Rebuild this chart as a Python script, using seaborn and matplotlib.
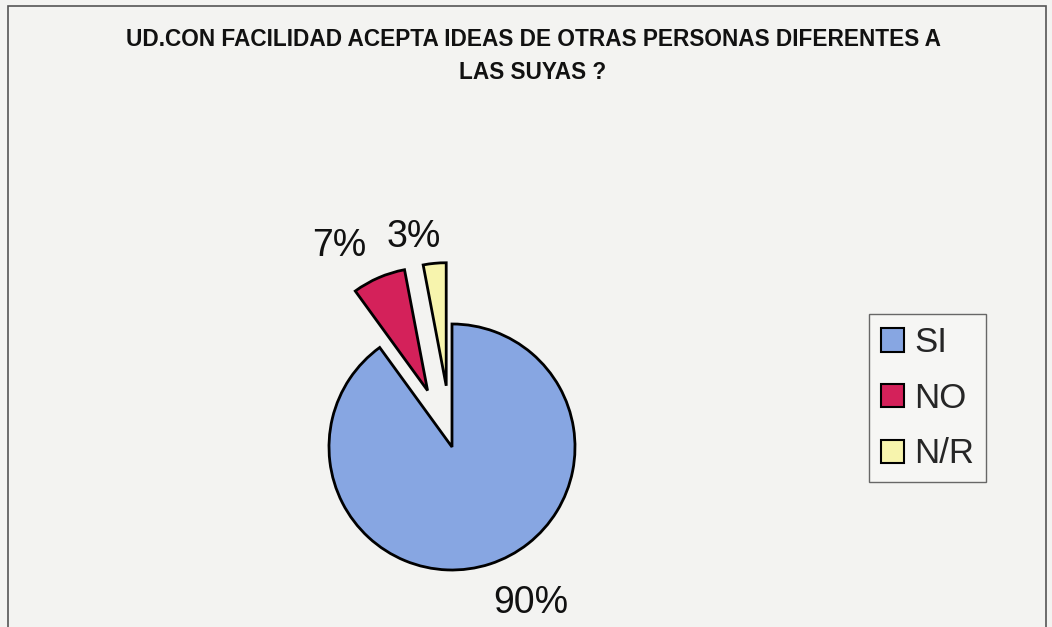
import matplotlib
matplotlib.use("Agg")
import matplotlib.pyplot as plt
import seaborn as sns
import numpy as np

# --- Data ---
categories = ["SI", "NO", "N/R"]
values = [90, 7, 3]
pct_labels = ["90%", "7%", "3%"]
colors = ["#87a6e2", "#d4215a", "#f7f4ad"]
explode = [0, 0.5, 0.5]

title = "UD.CON FACILIDAD ACEPTA IDEAS DE OTRAS PERSONAS DIFERENTES A\nLAS SUYAS ?"

sns.set_theme(style="white")
plt.rcParams["font.family"] = ["Liberation Sans", "DejaVu Sans"]

W, H = 1052, 627
fig = plt.figure(figsize=(W / 100, H / 100), dpi=100)
fig.patch.set_facecolor("#f3f3f1")

# border of chart area
frame = plt.Rectangle((8 / W, -0.05), (1046 - 8) / W, 1.05 - 6 / H, transform=fig.transFigure,
                      fill=False, edgecolor="#555555", lw=1.2)
fig.patches.append(frame)

fig.text(533 / W, 1 - 28 / H, title, ha="center", va="top", fontsize=16.3,
         fontweight="bold", color="#111111", linespacing=1.58)

# pie axes: center ~ (452, 447) px, radius ~123 px
R = 123
L = 2.0
side = 2 * L * R
cx, cy = 452, H - 447
ax = fig.add_axes([(cx - side / 2) / W, (cy - side / 2) / H, side / W, side / H])
wedges, _ = ax.pie(values, colors=colors, explode=explode, startangle=90,
                   counterclock=False, radius=1,
                   wedgeprops=dict(edgecolor="black", linewidth=2))
ax.set_xlim(-L, L)
ax.set_ylim(-L, L)
ax.set_aspect("equal")
ax.axis("off")

# percentage labels, placed outside each wedge (Excel style)
lab_dist = [1.42, 1.38, 1.24]
lab_shift = [9, 8, 7]  # degrees
for w, lab, d, s in zip(wedges, pct_labels, lab_dist, lab_shift):
    th = np.deg2rad((w.theta1 + w.theta2) / 2 + s)
    x0, y0 = w.center
    ax.text(x0 + d * np.cos(th), y0 + d * np.sin(th), lab, ha="center", va="center",
            fontsize=27, color="#111111")

leg = fig.legend(wedges, categories, loc="upper left", bbox_to_anchor=(869 / W, 1 - 314 / H),
                 fontsize=25, frameon=True, fancybox=False, handlelength=0.65,
                 handleheight=0.65, handletextpad=0.3, labelspacing=0.65,
                 borderpad=0.35, borderaxespad=0)
leg.get_frame().set_edgecolor("#444444")
leg.get_frame().set_linewidth(1)
leg.get_frame().set_facecolor("#f7f7f5")
for h in leg.legend_handles:
    h.set_linewidth(1.5)

fig.savefig("out.png", dpi=100, facecolor=fig.get_facecolor())
